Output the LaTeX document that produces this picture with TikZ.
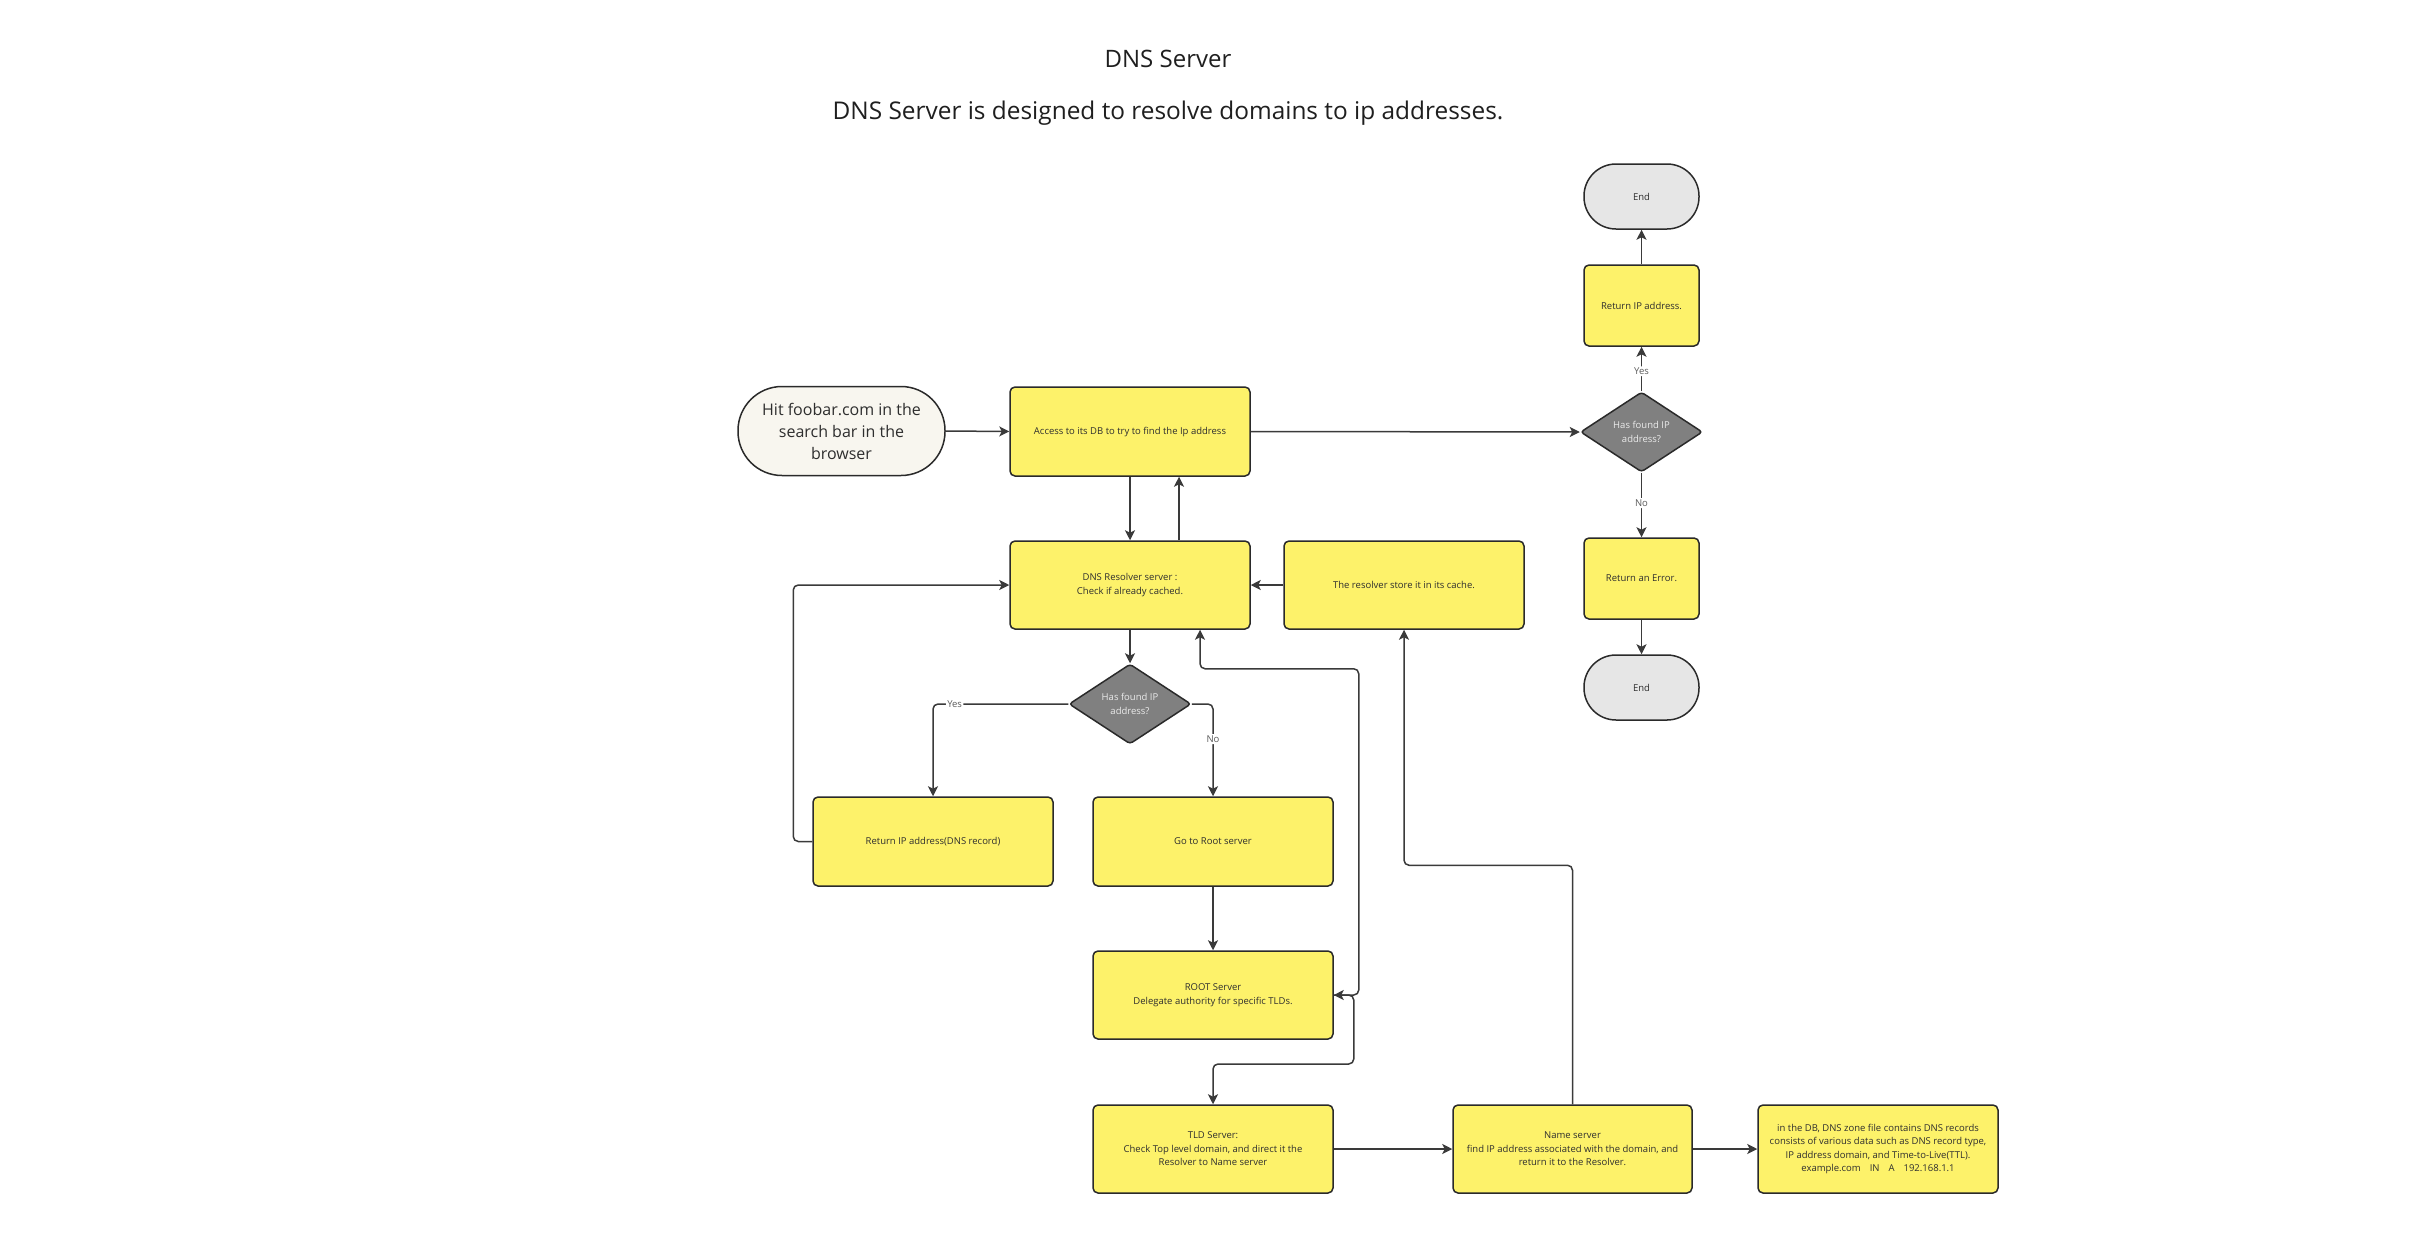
\documentclass[tikz,border=0pt]{standalone}
\usepackage{fontspec}
\setmainfont{Open Sans}
\usetikzlibrary{arrows.meta,shapes.geometric,calc}
\definecolor{boxyellow}{HTML}{FDF26A}
\definecolor{linegray}{HTML}{3A3A3A}
\definecolor{bordergray}{HTML}{2A2A2A}
\definecolor{diagray}{HTML}{808080}
\definecolor{endgray}{HTML}{E6E6E6}
\definecolor{startcream}{HTML}{F8F6EF}
\definecolor{txt}{HTML}{2E2E2E}
\definecolor{lbltxt}{HTML}{5A5A5A}
\tikzset{
  proc/.style={draw=bordergray, line width=1.5pt, fill=boxyellow, rounded corners=5pt,
    minimum width=240pt, minimum height=88pt, inner sep=0pt, align=center,
    font=\fontsize{9.5}{13.5}\selectfont, text=txt},
  smallproc/.style={proc, minimum width=115pt, minimum height=81pt},
  term/.style={draw=bordergray, line width=1.5pt, fill=endgray, rounded corners=32pt,
    minimum width=115pt, minimum height=65pt, inner sep=0pt, align=center,
    font=\fontsize{9.5}{13.5}\selectfont, text=txt},
  startterm/.style={draw=bordergray, line width=1.5pt, fill=startcream, rounded corners=44pt,
    minimum width=207pt, minimum height=89pt, inner sep=0pt, align=center,
    font=\fontsize{16}{22}\selectfont, text=txt},
  decide/.style={diamond, draw=bordergray, line width=1.5pt, fill=diagray, rounded corners=3pt,
    minimum width=122pt, minimum height=80pt, inner sep=0pt, aspect=1.5, align=center,
    font=\fontsize{9.5}{14}\selectfont, text=white!92!black},
  conn/.style={draw=linegray, line width=1.5pt, rounded corners=5pt,
    -{Stealth[length=10pt,width=10pt,inset=2.5pt]}},
  bothconn/.style={conn, {Stealth[length=10pt,width=10pt,inset=2.5pt]}-{Stealth[length=10pt,width=10pt,inset=2.5pt]}},
  lbl/.style={fill=white, inner sep=1.5pt, text=lbltxt, font=\fontsize{9.5}{11}\selectfont},
  titletext/.style={font=\fontsize{24}{28}\selectfont, text=black!88}
}
\begin{document}
\begin{tikzpicture}[x=1pt,y=-1pt]
\useasboundingbox (0,0) rectangle (2426,1232);
\fill[white] (0,0) rectangle (2426,1232);

% titles
\node[titletext] (title) at (1168,59) {DNS Server};
\node[titletext, font=\fontsize{24.4}{28}\selectfont] (subtitle) at (1168,113) {DNS Server is designed to resolve domains to ip addresses.};

% nodes
\node[startterm] (start) at (841.5,431) {Hit foobar.com in the\\search bar in the\\browser};
\node[proc, minimum height=89pt] (access) at (1130,431.5) {Access to its DB to try to find the Ip address};
\node[proc] (resolver) at (1130,585) {DNS Resolver server :\\Check if already cached.};
\node[proc] (store) at (1404,585) {The resolver store it in its cache.};
\node[decide] (dia1) at (1130,704) {Has found IP\\address?};
\node[proc, minimum height=89pt] (retdns) at (933,841.5) {Return IP address(DNS record)};
\node[proc, minimum height=89pt] (goroot) at (1213,841.5) {Go to Root server};
\node[proc] (root) at (1213,995) {ROOT Server\\Delegate authority for specific TLDs.};
\node[proc] (tld) at (1213,1149) {TLD Server:\\Check Top level domain, and direct it the\\Resolver to Name server};
\node[proc, minimum width=239pt] (name) at (1572.5,1149) {Name server\\find IP address associated with the domain, and\\return it to the Resolver.};
\node[proc] (info) at (1878,1149) {in the DB, DNS zone file contains DNS records\\consists of various data such as DNS record type,\\IP address domain, and Time-to-Live(TTL).\\example.com\hspace{9pt}IN\hspace{9pt}A\hspace{9pt}192.168.1.1};

\node[term] (end1) at (1641.5,196.5) {End};
\node[smallproc] (retip) at (1641.5,305.5) {Return IP address.};
\node[decide] (dia2) at (1641.5,432) {Has found IP\\address?};
\node[smallproc] (reterr) at (1641.5,578.5) {Return an Error.};
\node[term] (end2) at (1641.5,687.5) {End};

% connectors
\draw[conn] (start.east) -- (access.west);
\draw[conn] (access.east) -- (dia2.west);
\draw[conn] (access.south) -- (resolver.north);
\draw[conn] ([xshift=49pt]resolver.north) -- ([xshift=49pt]access.south);
\draw[conn] (store.west) -- (resolver.east);
\draw[conn] (resolver.south) -- (dia1.north);
\draw[conn] (dia1.west) -| node[lbl, pos=0.42] {Yes} (retdns.north);
\draw[conn] (dia1.east) -| node[lbl, pos=0.69] {No} (goroot.north);
\draw[conn] (retdns.west) -- ++(-19,0) |- (resolver.west);
\draw[conn] (goroot.south) -- (root.north);
\draw[bothconn] (root.east) -- ++(25,0) |- ($(resolver.south)+(70,39)$) -- ([xshift=70pt]resolver.south);
\draw[conn] (root.east) -- ++(20,0) -- ++(0,69) -| (tld.north);
\draw[conn] (tld.east) -- (name.west);
\draw[conn] (name.east) -- (info.west);
\draw[conn] (name.north) -- ++(0,-239) -| (store.south);
\draw[conn] (dia2.north) -- node[lbl, pos=0.45] {Yes} (retip.south);
\draw[conn] (retip.north) -- (end1.south);
\draw[conn] (dia2.south) -- node[lbl, pos=0.47] {No} (reterr.north);
\draw[conn] (reterr.south) -- (end2.north);
\end{tikzpicture}
\end{document}
